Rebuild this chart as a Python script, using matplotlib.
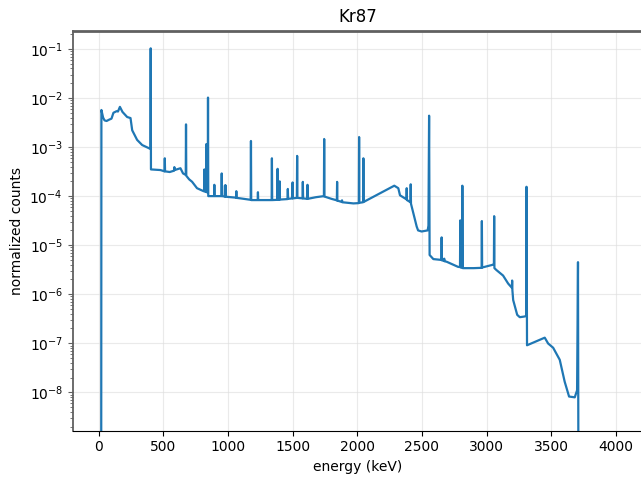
import matplotlib
matplotlib.use("Agg")
import matplotlib.pyplot as plt

# spectrum (energy in keV, normalized counts)
energy = [
    20, 22, 35, 46, 62, 80, 100, 115, 140, 150, 165, 185, 221, 247, 260, 298, 337,
    396, 401, 403, 405, 478, 510, 512, 514, 550, 584, 586, 588, 633, 653,
    674, 676, 678, 700, 723, 761, 812,
    816, 818, 820, 831, 833, 835, 844, 846, 848,
    893, 895, 897, 950, 952, 954, 975, 977, 979, 983, 985,
    1063, 1065, 1067, 1096, 1176, 1178, 1180, 1230, 1232, 1234,
    1338, 1340, 1342, 1382, 1384, 1386, 1398, 1400, 1402,
    1461, 1463, 1465, 1498, 1500, 1502, 1533, 1535, 1537,
    1577, 1579, 1581, 1613, 1615, 1617, 1680, 1742, 1744, 1746, 1800,
    1842, 1844, 1846, 1880, 1882, 1884, 1970,
    2012, 2014, 2016, 2045, 2047, 2049,
    2286, 2300, 2317, 2330, 2369, 2380, 2382, 2384, 2411, 2413, 2415,
    2433, 2459, 2470, 2497, 2544, 2550, 2555, 2559, 2588,
    2650, 2652, 2654, 2670, 2672, 2674, 2690, 2780,
    2794, 2796, 2798, 2810, 2812, 2815, 2900, 2961, 2963, 2965,
    3050, 3056, 3058, 3060, 3076, 3127, 3166, 3195, 3197, 3199,
    3205, 3236, 3256, 3290, 3306, 3308, 3312,
    3449, 3475, 3514, 3565, 3603, 3637, 3681, 3699, 3706, 3711,
]
counts = [
    1e-12, 5.7e-3, 4.0e-3, 3.5e-3, 3.4e-3, 3.6e-3, 3.8e-3, 5.0e-3, 5.4e-3, 5.3e-3, 6.6e-3, 5.2e-3,
    4.1e-3, 3.9e-3, 2.2e-3, 1.4e-3, 1.1e-3,
    9.3e-4, 9.3e-4, 0.103, 3.5e-4, 3.4e-4, 3.2e-4, 5.9e-4, 3.2e-4, 3.1e-4, 3.3e-4, 3.9e-4, 3.4e-4,
    3.7e-4, 2.9e-4,
    2.7e-4, 2.9e-3, 2.6e-4, 2.2e-4, 1.96e-4, 1.45e-4, 1.26e-4,
    1.26e-4, 3.5e-4, 1.25e-4, 1.22e-4, 1.15e-3, 1.2e-4, 1.2e-4, 1.02e-2, 1.0e-4,
    1.0e-4, 1.7e-4, 1.0e-4, 1.0e-4, 2.9e-4, 1.0e-4, 9.8e-5, 1.65e-4, 9.8e-5, 1.65e-4, 9.7e-5,
    9.3e-5, 1.26e-4, 9.2e-5, 9.0e-5, 8.4e-5, 1.33e-3, 8.3e-5, 8.3e-5, 1.2e-4, 8.3e-5,
    8.3e-5, 5.9e-4, 8.3e-5, 8.4e-5, 3.6e-4, 8.4e-5, 8.5e-5, 2.0e-4, 8.5e-5,
    8.7e-5, 1.4e-4, 8.8e-5, 9.0e-5, 1.9e-4, 9.0e-5, 9.2e-5, 6.6e-4, 9.2e-5,
    9.0e-5, 1.95e-4, 9.0e-5, 8.8e-5, 1.7e-4, 8.8e-5, 9.5e-5, 1.0e-4, 1.46e-3, 9.8e-5, 8.8e-5,
    8.2e-5, 1.95e-4, 8.1e-5, 7.6e-5, 8.2e-5, 7.5e-5, 7.1e-5,
    7.2e-5, 1.6e-3, 7.3e-5, 7.5e-5, 5.9e-4, 7.6e-5,
    1.63e-4, 1.55e-4, 1.45e-4, 1.04e-4, 9.0e-5, 8.6e-5, 1.45e-4, 8.3e-5, 7.5e-5, 1.74e-4, 7.0e-5,
    4.5e-5, 2.4e-5, 2.0e-5, 1.9e-5, 2.0e-5, 2.5e-5, 4.36e-3, 6.3e-6, 5.2e-6,
    5.0e-6, 1.44e-5, 4.9e-6, 4.8e-6, 5.3e-6, 4.7e-6, 4.6e-6, 3.6e-6,
    3.6e-6, 3.2e-5, 3.5e-6, 3.5e-6, 1.63e-4, 3.4e-6, 3.4e-6, 3.45e-6, 3.1e-5, 3.5e-6,
    4.0e-6, 4.1e-6, 3.9e-5, 3.4e-6, 3.1e-6, 2.4e-6, 1.65e-6, 1.35e-6, 1.9e-6, 1.2e-6,
    7.6e-7, 3.8e-7, 3.4e-7, 3.5e-7, 3.6e-7, 1.55e-4, 9.1e-8,
    1.3e-7, 9.9e-8, 8.1e-8, 4.6e-8, 1.65e-8, 8.2e-9, 7.9e-9, 1.1e-8, 4.5e-6, 1e-12,
]

fig = plt.figure(figsize=(6.41, 4.83), dpi=100)
ax = fig.add_axes([0.1134, 0.1083, 0.888, 0.8282])

ax.plot(energy, counts, color="#1f77b4", lw=1.6)
ax.set_yscale("log")
ax.set_xlim(-200, 4200)
ax.set_ylim(1.65e-9, 0.236)
ax.set_xticks([0, 500, 1000, 1500, 2000, 2500, 3000, 3500, 4000])
ax.grid(True, color="#dddddd", alpha=0.6, lw=0.8)

ax.spines["top"].set_color("#606060")
ax.spines["top"].set_linewidth(2)
ax.spines["left"].set_color("#606060")
ax.spines["left"].set_linewidth(1.3)
ax.spines["right"].set_visible(False)
ax.tick_params(axis="y", which="both", color="#606060")

ax.set_title("Kr87")
ax.set_xlabel("energy (keV)")
ax.set_ylabel("normalized counts")

fig.savefig("out.png", dpi=100)
